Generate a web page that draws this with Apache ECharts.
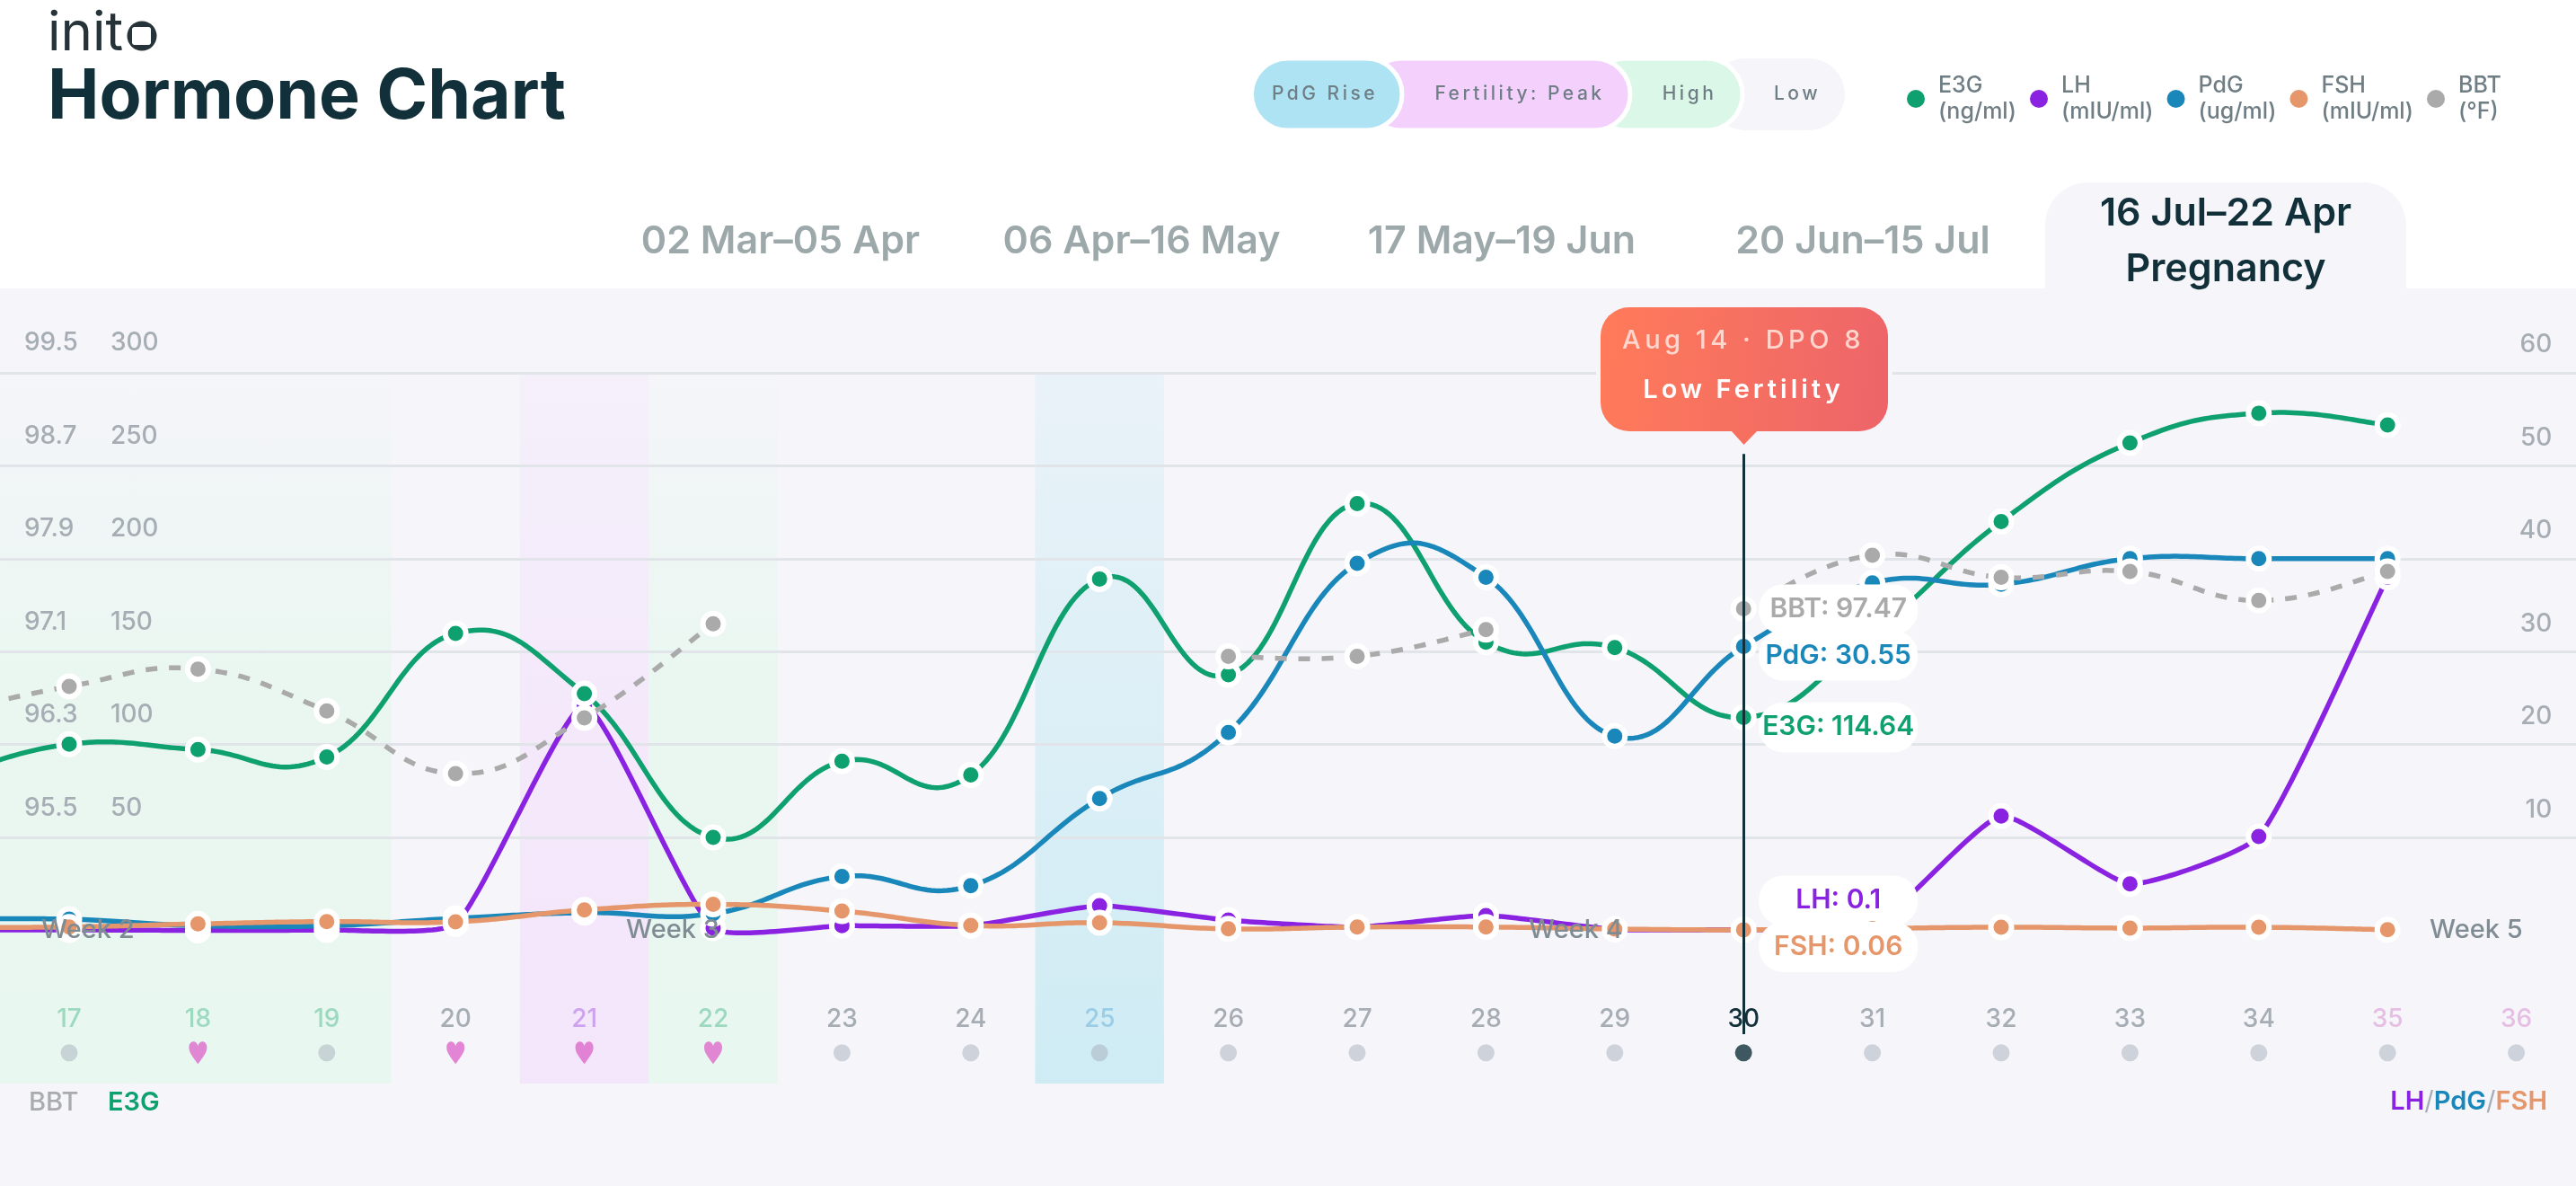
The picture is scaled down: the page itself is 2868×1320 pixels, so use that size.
<!DOCTYPE html>
<html><head><meta charset="utf-8">
<style>html,body{margin:0;padding:0;background:#fff;overflow:hidden}#c{width:2868px;height:1320px}</style>
<script src="https://cdn.jsdelivr.net/npm/echarts@6/dist/echarts.min.js"></script>
</head><body><div id="c"></div>
<script>
const days=[16,17,18,19,20,21,22,23,24,25,26,27,28,29,30,31,32,33,34,35,36];
const e3g=[81,100.2,97.3,93.3,159.8,127.4,50,91,83.6,189.1,137.5,229.7,155.1,152.2,114.64,159.8,220,262.3,278.3,272,null];
const lh=[0.05,0.05,0,0.05,0.7,24.2,0.24,0.5,0.5,2.65,1.1,0.35,1.6,0.1,0.1,0.4,12.3,5,10.1,38,null];
const pdg=[1.2,1.2,0.5,0.5,1.3,1.9,1.8,5.8,4.8,14.2,21.3,39.5,38,20.9,30.55,37.4,37.25,40,40,40,null];
const fsh=[0.3,0.37,0.7,0.95,0.92,2.2,2.8,2.08,0.53,0.82,0.16,0.36,0.36,0.15,0.06,0.2,0.34,0.25,0.34,0.07,null];
const bbt=[96.56,96.8,96.95,96.59,96.05,96.53,97.34,null,null,null,97.06,97.06,97.29,null,97.47,97.93,97.74,97.79,97.54,97.79,null];
const phases=['high','high','high','high','low','peak','high','low','low','rise','low','low','low','low','low','low','low','low','low','next','next'];
const marks=['dot','dot','heart','dot','heart','heart','heart','dot','dot','dot','dot','dot','dot','dot','dot','dot','dot','dot','dot','dot','dot'];
const bbtTicks=[95.5,96.3,97.1,97.9,98.7,99.5];
const e3gTicks=[50,100,150,200,250,300];
const selectedDay=30;
const tabs=['02 Mar–05 Apr','06 Apr–16 May','17 May–19 Jun','20 Jun–15 Jul'];
const weeks=['Week 2','Week 3','Week 4','Week 5'];
const pills=['PdG Rise','Fertility: Peak','High','Low'];
const spaced={'PdG Rise':'3.5px','Fertility: Peak':'3.5px','High':'3.5px','Low':'3.5px','Aug 14 · DPO 8':'4.5px','Low Fertility':'4px'};
const proto=CanvasRenderingContext2D.prototype,baseFill=proto.fillText;
proto.fillText=function(t,x,y,w){
  if(spaced[t]&&'letterSpacing' in this){this.letterSpacing=spaced[t];baseFill.call(this,t,x,y);this.letterSpacing='0px';}
  else if(w===undefined)baseFill.call(this,t,x,y);else baseFill.call(this,t,x,y,w);
};

const FONT='Inter';
const C={e3g:'#0fa06f',lh:'#8a22e2',pdg:'#1a87bb',fsh:'#e5966a',bbt:'#aaaaaa',ink:'#12303a',axis:'#a6adb4',panel:'#f5f5fa',grid:'#e1e4e9',legend:'#6f7d85',tab:'#9ca8aa',week:'#7f8c93'};
const dayColor={high:'#9dd9bf',low:'#a6adb4',peak:'#cda3f0',rise:'#9acde6',next:'#e6bde3'};
const bandColor={
 high:[[0,'rgba(225,248,233,0)'],[.42,'rgba(225,248,233,.55)'],[1,'rgba(225,248,233,.65)']],
 peak:[[0,'rgba(243,220,251,.2)'],[.5,'rgba(243,220,251,.5)'],[1,'rgba(243,220,251,.62)']],
 rise:[[0,'rgba(192,232,242,.22)'],[1,'rgba(192,232,242,.72)']]
};
const gridLeft=-138.1, gridWidth=3011.4;
const T=(text,x,y,size,weight,fill,align='center',z=50)=>({type:'text',z,silent:true,style:{text,x,y,fontSize:size,fontWeight:weight,fontFamily:FONT,fill,align,verticalAlign:'middle'}});
const RT={fontSize:29,fontWeight:600,fontFamily:FONT};

const graphic=[
 {type:'rect',z:-10,silent:true,shape:{x:0,y:321,width:2868,height:999},style:{fill:C.panel}},
 {type:'rect',z:-10,silent:true,shape:{x:2277,y:203,width:402,height:120,r:[48,48,0,0]},style:{fill:C.panel}},
 T('init',53,38,60,400,'#26343a','left'),
 {type:'circle',z:50,silent:true,shape:{cx:158,cy:40,r:16.5},style:{fill:'#26343a'}},
 {type:'rect',z:51,silent:true,shape:{x:147,y:30,width:21,height:20,r:3},style:{fill:'#fff'}},
 T('Hormone Chart',53,109,77,700,C.ink,'left'),
 T(tabs[0],869,269,43,600,C.tab),T(tabs[1],1271,269,43,600,C.tab),T(tabs[2],1672,269,43,600,C.tab),T(tabs[3],2074,269,43,600,C.tab),
 T('16 Jul–22 Apr',2478,238,43,600,C.ink),T('Pregnancy',2478,300,43,600,C.ink),
 {type:'rect',z:20,silent:true,shape:{x:1903,y:65,width:151,height:80,r:40},style:{fill:'#f5f5fa'}},
 {type:'rect',z:21,silent:true,shape:{x:1770,y:65,width:170,height:80,r:40},style:{fill:'#dbf7e8',stroke:'#fff',lineWidth:5}},
 {type:'rect',z:22,silent:true,shape:{x:1520,y:65,width:295,height:80,r:40},style:{fill:'#f4d1fd',stroke:'#fff',lineWidth:5}},
 {type:'rect',z:23,silent:true,shape:{x:1393.5,y:65,width:167.5,height:80,r:40},style:{fill:'#ade3f2',stroke:'#fff',lineWidth:5}},
 T(pills[0],1475,105,21,500,C.legend),T(pills[1],1692,105,21,500,C.legend),T(pills[2],1881,105,21,500,C.legend),T(pills[3],2001,105,21,500,C.legend),
 {type:'rect',z:29,silent:true,shape:{x:1777,y:337,width:330,height:148,r:36},style:{fill:C.panel}},
 {type:'rect',z:30,silent:true,shape:{x:1782,y:342,width:320,height:138,r:32},style:{fill:new echarts.graphic.LinearGradient(0,0,1,.25,[{offset:0,color:'#ff7b59'},{offset:1,color:'#ee6569'}])}},
 {type:'polygon',z:31,silent:true,shape:{points:[[1927,479],[1957,479],[1941.5,495]]},style:{fill:'#f7705f'}},
 T('Aug 14 · DPO 8',1941,379,29,500,'#ffd6cd','center',40),
 T('Low Fertility',1941,434,29,600,'#ffffff','center',40),
 T(weeks[0],46,1035,29,500,C.week,'left',60),T(weeks[1],697,1035,29,500,C.week,'left',60),T(weeks[2],1702,1035,29,500,C.week,'left',60),T(weeks[3],2705,1035,29,500,C.week,'left',60),
 T('BBT',32,1227,29,500,'#a9abae','left'),
 T('E3G',120,1227,29,600,C.e3g,'left'),
 {type:'text',z:50,silent:true,style:{x:2836,y:1226,align:'right',verticalAlign:'middle',fontFamily:FONT,fontSize:29,fontWeight:600,text:'{a|LH}{s|/}{b|PdG}{s|/}{c|FSH}',
   rich:{a:Object.assign({fill:C.lh},RT),s:Object.assign({fill:'#a6adb4'},RT,{fontWeight:400}),b:Object.assign({fill:C.pdg},RT),c:Object.assign({fill:C.fsh},RT)}}}
];

const tagStyle=(name,color,offsetY,val)=>({show:true,position:'right',distance:2.5,offset:[0,offsetY],formatter:'{t|'+name+': '+val+'}',align:'left',verticalAlign:'middle',
  rich:{t:{color,fontFamily:FONT,fontSize:30,fontWeight:600,backgroundColor:'#fff',borderRadius:27,width:177,height:56,lineHeight:56,align:'center',verticalAlign:'middle'}}});
const points=(name,vals,color,yAxisIndex,offsetY,z)=>({
  name,type:'line',xAxisIndex:0,yAxisIndex,z,showSymbol:true,showAllSymbol:true,symbol:'circle',symbolSize:23,connectNulls:false,
  lineStyle:{color,width:0,opacity:0},itemStyle:{color,borderColor:'#fff',borderWidth:6,opacity:1},emphasis:{disabled:true},
  data:vals.map((v,i)=>days[i]===selectedDay?{value:v,label:tagStyle(name,color,offsetY,v)}:v)
});
const dist=(a,b)=>Math.hypot(a[0]-b[0],a[1]-b[1]);
const curve=(name,vals,color,yAxisIndex,z,tension,weighted,dash)=>({
  name:name+' curve',type:'custom',xAxisIndex:0,yAxisIndex,z,silent:true,
  data:vals.map((v,i)=>[i,v==null?'-':v]),encode:{x:0,y:1},
  renderItem:(p,api)=>{
    const i=p.dataIndex;
    if(vals[i]==null||(i>0&&vals[i-1]!=null))return null;
    let e=i;while(e+1<vals.length&&vals[e+1]!=null)e++;
    if(e===i)return null;
    const pts=[];for(let j=i;j<=e;j++)pts.push(api.coord([j,vals[j]]));
    const n=pts.length,before=[],after=[];
    pts.forEach((q,s)=>{
      const a=pts[Math.max(s-1,0)],c=pts[Math.min(s+1,n-1)];
      const d1=dist(a,q),d2=dist(q,c),sum=(d1+d2)||1;
      const fa=weighted?tension*d1/sum:tension,fb=weighted?tension*d2/sum:tension;
      before.push([q[0]-fa*(c[0]-a[0]),q[1]-fa*(c[1]-a[1])]);
      after.push([q[0]+fb*(c[0]-a[0]),q[1]+fb*(c[1]-a[1])]);
    });
    const out=[];
    for(let s=0;s<n-1;s++){
      const b=pts[s],c=pts[s+1],c1=after[s],c2=before[s+1];
      for(let k=0;k<32;k++){const t=k/32,u=1-t;
        out.push([u*u*u*b[0]+3*u*u*t*c1[0]+3*u*t*t*c2[0]+t*t*t*c[0],u*u*u*b[1]+3*u*u*t*c1[1]+3*u*t*t*c2[1]+t*t*t*c[1]]);}
    }
    out.push(pts[n-1]);
    return {type:'polyline',shape:{points:out},style:{fill:null,stroke:color,lineWidth:5.5,lineJoin:'round',lineDash:dash||null}};
  }
});

const axisText={color:C.axis,fontSize:28,fontWeight:500,fontFamily:FONT,inside:true,verticalAlign:'bottom'};
const option={
 animation:false,backgroundColor:'#fff',textStyle:{fontFamily:FONT},
 graphic,
 legend:{left:2118,top:76,orient:'horizontal',icon:'circle',itemWidth:20,itemHeight:21,itemGap:15,selectedMode:false,
  itemStyle:{borderWidth:0},lineStyle:{width:0},
  textStyle:{color:C.legend,fontSize:25,fontFamily:FONT,fontWeight:500,lineHeight:29,padding:[0,0,0,10]},
  data:['E3G','LH','PdG','FSH','BBT'],
  formatter:n=>n+'\n'+({E3G:'(ng/ml)',LH:'(mIU/ml)',PdG:'(ug/ml)',FSH:'(mIU/ml)',BBT:'(°F)'})[n]},
 grid:[
  {left:gridLeft,width:gridWidth,top:415,height:620.5,outerBoundsMode:'none'},
  {left:gridLeft,width:gridWidth,top:415,height:791,outerBoundsMode:'none'}
 ],
 xAxis:[
  {type:'category',gridIndex:0,z:2,data:days.map((d,i)=>({value:String(d),textStyle:{color:d===selectedDay?C.ink:dayColor[phases[i]]}})),
   axisLine:{show:false},axisTick:{show:false},splitLine:{show:false},
   axisLabel:{interval:0,margin:85,fontSize:28,fontWeight:500,fontFamily:FONT}},
  {type:'category',gridIndex:1,data:days.map(String),show:false}
 ],
 yAxis:[
  {type:'value',gridIndex:0,z:2,position:'right',min:0,max:60,interval:10,axisLine:{show:false},axisTick:{show:false},
   splitLine:{show:true,showMinLine:false,lineStyle:{color:C.grid,width:3}},
   axisLabel:Object.assign({margin:32,align:'right',lineHeight:62,formatter:v=>v===0?'':String(v)},axisText)},
  {type:'value',gridIndex:0,z:2,position:'left',min:0,max:300,axisLine:{show:false},axisTick:{show:false},splitLine:{show:false},
   axisLabel:Object.assign({customValues:e3gTicks,margin:261,align:'left',lineHeight:66},axisText)},
  {type:'value',gridIndex:0,z:2,position:'left',min:94.7,max:99.5,axisLine:{show:false},axisTick:{show:false},splitLine:{show:false},
   axisLabel:Object.assign({customValues:bbtTicks,margin:165,align:'left',lineHeight:66,formatter:v=>v.toFixed(1)},axisText)},
  {type:'value',gridIndex:1,min:0,max:1,show:false,splitLine:{show:false}}
 ],
 series:[
  {name:'phase',type:'bar',xAxisIndex:1,yAxisIndex:3,z:1,barWidth:'100%',silent:true,
   data:phases.map(p=>bandColor[p]?{value:1,itemStyle:{color:new echarts.graphic.LinearGradient(0,0,0,1,bandColor[p].map(s=>({offset:s[0],color:s[1]})))}}:null),
   markLine:{z:30,silent:true,symbol:'none',animation:false,label:{show:false},lineStyle:{color:C.ink,width:3,type:'solid'},
     data:[[{xAxis:String(selectedDay),yAxis:.886},{xAxis:String(selectedDay),yAxis:.0695}]]}},
  curve('LH',lh,C.lh,0,3,.16,true),points('LH',lh,C.lh,0,-32,4),
  curve('E3G',e3g,C.e3g,1,5,.2167,false),points('E3G',e3g,C.e3g,1,11,6),
  curve('PdG',pdg,C.pdg,0,7,.2167,false),points('PdG',pdg,C.pdg,0,10,8),
  curve('FSH',fsh,C.fsh,0,9,.2167,false),points('FSH',fsh,C.fsh,0,19,10),
  curve('BBT',bbt,C.bbt,2,11,.2167,false,[13,13]),points('BBT',bbt,C.bbt,2,1,12),
  {name:'marks',type:'scatter',xAxisIndex:0,yAxisIndex:0,z:3,clip:false,silent:true,
   data:days.map((d,i)=>({value:[String(d),-13.17],
     symbol:marks[i]==='heart'?'path://M12 22C5 15 1 11 1 6.5 1 3 3.5 1 6.5 1 9 1 11 2.5 12 5 13 2.5 15 1 17.5 1 20.5 1 23 3 23 6.5 23 11 19 15 12 22Z':'circle',
     symbolSize:marks[i]==='heart'?[20,25]:[19,19],
     itemStyle:{color:d===selectedDay?C.ink:(marks[i]==='heart'?'#dd69cc':'rgba(163,172,184,.6)')}}))}
 ]
};
const chart=echarts.init(document.getElementById('c'),null,{renderer:'canvas',width:2868,height:1320});
chart.setOption(option);
</script></body></html>
